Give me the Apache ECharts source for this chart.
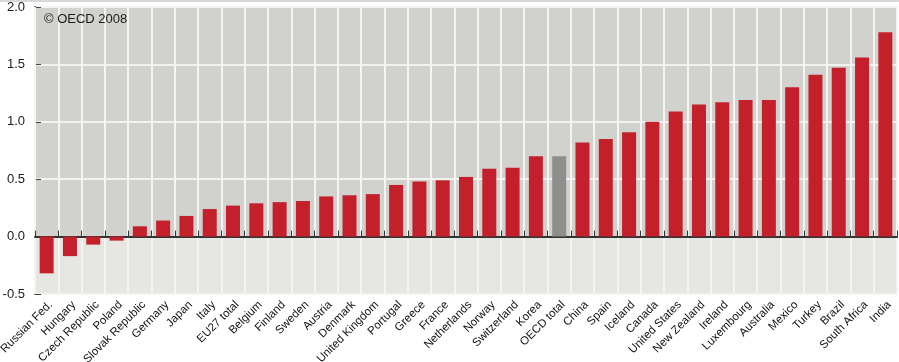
<!DOCTYPE html>
<html><head><meta charset="utf-8">
<script src="https://cdn.jsdelivr.net/npm/echarts@6/dist/echarts.min.js"></script>
<style>html,body{margin:0;padding:0;background:#fff}#c{width:899px;height:362px}</style>
</head><body><div id="c"></div>
<script>
const categories = ["Russian Fed.","Hungary","Czech Republic","Poland","Slovak Republic","Germany","Japan","Italy","EU27 total","Belgium","Finland","Sweden","Austria","Denmark","United Kingdom","Portugal","Greece","France","Netherlands","Norway","Switzerland","Korea","OECD total","China","Spain","Iceland","Canada","United States","New Zealand","Ireland","Luxembourg","Australia","Mexico","Turkey","Brazil","South Africa","India"];
const values = [-0.32,-0.17,-0.07,-0.035,0.09,0.14,0.18,0.24,0.27,0.29,0.30,0.31,0.35,0.36,0.37,0.45,0.48,0.49,0.52,0.59,0.60,0.70,0.70,0.82,0.85,0.91,1.00,1.09,1.15,1.17,1.19,1.19,1.30,1.41,1.47,1.56,1.78];
const highlight = "OECD total";
const yTicks = [-0.5,0,0.5,1.0,1.5,2.0];

const chart = echarts.init(document.getElementById('c'));
chart.setOption({
  animation:false,
  backgroundColor:'#fff',
  grid:[
    {left:35,right:2,top:7,bottom:68,containLabel:false,outerBoundsMode:'none'},
    {left:39,right:-2,top:7,bottom:68,containLabel:false,outerBoundsMode:'none'}
  ],
  xAxis:[{
    type:'category',data:categories,z:1,gridIndex:0,
    axisLine:{onZero:true,lineStyle:{color:'#333',width:2}},
    axisTick:{show:true,inside:true,length:6,interval:0,lineStyle:{color:'#333',width:1}},
    axisLabel:{show:false},
    splitLine:{show:true,interval:0,lineStyle:{color:'#f4f4f2',width:2}}
  },{
    type:'category',data:categories,gridIndex:1,position:'bottom',
    axisLine:{show:false},axisTick:{show:false},splitLine:{show:false},
    axisLabel:{rotate:45,interval:0,margin:9,fontSize:11.5,color:'#111',fontFamily:'Liberation Sans Narrow, Arial Narrow, sans-serif'}
  }],
  yAxis:[{
    type:'value',gridIndex:0,min:yTicks[0],max:yTicks[yTicks.length-1],interval:0.5,
    axisLine:{show:true,lineStyle:{color:'#444',width:2}},
    axisTick:{show:true,inside:true,length:6,lineStyle:{color:'#444'}},
    axisLabel:{fontSize:13,color:'#1a1a1a',margin:10,fontFamily:'Liberation Sans, Arial, sans-serif',formatter:v=>v.toFixed(1)},
    splitLine:{show:true,lineStyle:{color:'#f2f2f0',width:2}},
    splitArea:{show:true,areaStyle:{color:['#e6e6e3','#d1d1ce','#d1d1ce','#d1d1ce','#d1d1ce']}}
  },{
    type:'value',gridIndex:1,min:yTicks[0],max:yTicks[yTicks.length-1],show:false,
    splitLine:{show:false},splitArea:{show:false}
  }],
  series:[{
    type:'bar',xAxisIndex:0,yAxisIndex:0,barWidth:14,
    data:values.map((v,i)=>({value:v,itemStyle:{color:categories[i]===highlight?'#8e8e8e':'#c4202b'}}))
  }],
  graphic:[
    {type:'rect',z:100,shape:{x:0,y:0,width:899,height:2},style:{fill:'#d8d8d8'}},
    {type:'text',z:100,x:44,y:13,style:{text:'\u00a9 OECD 2008',fill:'#1a1a1a',font:'13px Liberation Sans, Arial, sans-serif'}}
  ]
});
</script></body></html>
